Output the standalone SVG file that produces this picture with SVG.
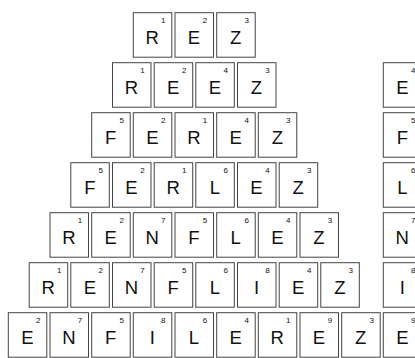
<svg xmlns="http://www.w3.org/2000/svg" width="415" height="358" viewBox="0 0 415 358">
<style>
.t rect{fill:#fff;stroke:#444;stroke-width:1}
.l{font-family:"Liberation Sans",Arial,sans-serif;font-size:18.5px;text-anchor:middle;fill:#111}
.n{font-family:"Liberation Sans",Arial,sans-serif;font-size:8px;text-anchor:middle;fill:#111}
</style>
<rect width="415" height="358" fill="#fff"/>
<g id="row0">
<g id="t0-0" class="t" transform="translate(133.3,12.7)"><rect width="38.5" height="44.5"/><text class="l" x="19" y="31">R</text><text class="n" x="30" y="10.5">1</text></g>
<g id="t0-1" class="t" transform="translate(175,12.7)"><rect width="38.5" height="44.5"/><text class="l" x="19" y="31">E</text><text class="n" x="30" y="10.5">2</text></g>
<g id="t0-2" class="t" transform="translate(216.7,12.7)"><rect width="38.5" height="44.5"/><text class="l" x="19" y="31">Z</text><text class="n" x="30" y="10.5">3</text></g>
</g>
<g id="row1">
<g id="t1-0" class="t" transform="translate(112.5,62.7)"><rect width="38.5" height="44.5"/><text class="l" x="19" y="31">R</text><text class="n" x="30" y="10.5">1</text></g>
<g id="t1-1" class="t" transform="translate(154.2,62.7)"><rect width="38.5" height="44.5"/><text class="l" x="19" y="31">E</text><text class="n" x="30" y="10.5">2</text></g>
<g id="t1-2" class="t" transform="translate(195.8,62.7)"><rect width="38.5" height="44.5"/><text class="l" x="19" y="31">E</text><text class="n" x="30" y="10.5">4</text></g>
<g id="t1-3" class="t" transform="translate(237.5,62.7)"><rect width="38.5" height="44.5"/><text class="l" x="19" y="31">Z</text><text class="n" x="30" y="10.5">3</text></g>
</g>
<g id="row2">
<g id="t2-0" class="t" transform="translate(91.7,112.7)"><rect width="38.5" height="44.5"/><text class="l" x="19" y="31">F</text><text class="n" x="30" y="10.5">5</text></g>
<g id="t2-1" class="t" transform="translate(133.3,112.7)"><rect width="38.5" height="44.5"/><text class="l" x="19" y="31">E</text><text class="n" x="30" y="10.5">2</text></g>
<g id="t2-2" class="t" transform="translate(175,112.7)"><rect width="38.5" height="44.5"/><text class="l" x="19" y="31">R</text><text class="n" x="30" y="10.5">1</text></g>
<g id="t2-3" class="t" transform="translate(216.7,112.7)"><rect width="38.5" height="44.5"/><text class="l" x="19" y="31">E</text><text class="n" x="30" y="10.5">4</text></g>
<g id="t2-4" class="t" transform="translate(258.3,112.7)"><rect width="38.5" height="44.5"/><text class="l" x="19" y="31">Z</text><text class="n" x="30" y="10.5">3</text></g>
</g>
<g id="row3">
<g id="t3-0" class="t" transform="translate(70.8,162.7)"><rect width="38.5" height="44.5"/><text class="l" x="19" y="31">F</text><text class="n" x="30" y="10.5">5</text></g>
<g id="t3-1" class="t" transform="translate(112.5,162.7)"><rect width="38.5" height="44.5"/><text class="l" x="19" y="31">E</text><text class="n" x="30" y="10.5">2</text></g>
<g id="t3-2" class="t" transform="translate(154.2,162.7)"><rect width="38.5" height="44.5"/><text class="l" x="19" y="31">R</text><text class="n" x="30" y="10.5">1</text></g>
<g id="t3-3" class="t" transform="translate(195.8,162.7)"><rect width="38.5" height="44.5"/><text class="l" x="19" y="31">L</text><text class="n" x="30" y="10.5">6</text></g>
<g id="t3-4" class="t" transform="translate(237.5,162.7)"><rect width="38.5" height="44.5"/><text class="l" x="19" y="31">E</text><text class="n" x="30" y="10.5">4</text></g>
<g id="t3-5" class="t" transform="translate(279.2,162.7)"><rect width="38.5" height="44.5"/><text class="l" x="19" y="31">Z</text><text class="n" x="30" y="10.5">3</text></g>
</g>
<g id="row4">
<g id="t4-0" class="t" transform="translate(50,212.7)"><rect width="38.5" height="44.5"/><text class="l" x="19" y="31">R</text><text class="n" x="30" y="10.5">1</text></g>
<g id="t4-1" class="t" transform="translate(91.7,212.7)"><rect width="38.5" height="44.5"/><text class="l" x="19" y="31">E</text><text class="n" x="30" y="10.5">2</text></g>
<g id="t4-2" class="t" transform="translate(133.3,212.7)"><rect width="38.5" height="44.5"/><text class="l" x="19" y="31">N</text><text class="n" x="30" y="10.5">7</text></g>
<g id="t4-3" class="t" transform="translate(175,212.7)"><rect width="38.5" height="44.5"/><text class="l" x="19" y="31">F</text><text class="n" x="30" y="10.5">5</text></g>
<g id="t4-4" class="t" transform="translate(216.7,212.7)"><rect width="38.5" height="44.5"/><text class="l" x="19" y="31">L</text><text class="n" x="30" y="10.5">6</text></g>
<g id="t4-5" class="t" transform="translate(258.3,212.7)"><rect width="38.5" height="44.5"/><text class="l" x="19" y="31">E</text><text class="n" x="30" y="10.5">4</text></g>
<g id="t4-6" class="t" transform="translate(300,212.7)"><rect width="38.5" height="44.5"/><text class="l" x="19" y="31">Z</text><text class="n" x="30" y="10.5">3</text></g>
</g>
<g id="row5">
<g id="t5-0" class="t" transform="translate(29.2,262.7)"><rect width="38.5" height="44.5"/><text class="l" x="19" y="31">R</text><text class="n" x="30" y="10.5">1</text></g>
<g id="t5-1" class="t" transform="translate(70.8,262.7)"><rect width="38.5" height="44.5"/><text class="l" x="19" y="31">E</text><text class="n" x="30" y="10.5">2</text></g>
<g id="t5-2" class="t" transform="translate(112.5,262.7)"><rect width="38.5" height="44.5"/><text class="l" x="19" y="31">N</text><text class="n" x="30" y="10.5">7</text></g>
<g id="t5-3" class="t" transform="translate(154.2,262.7)"><rect width="38.5" height="44.5"/><text class="l" x="19" y="31">F</text><text class="n" x="30" y="10.5">5</text></g>
<g id="t5-4" class="t" transform="translate(195.8,262.7)"><rect width="38.5" height="44.5"/><text class="l" x="19" y="31">L</text><text class="n" x="30" y="10.5">6</text></g>
<g id="t5-5" class="t" transform="translate(237.5,262.7)"><rect width="38.5" height="44.5"/><text class="l" x="19" y="31">I</text><text class="n" x="30" y="10.5">8</text></g>
<g id="t5-6" class="t" transform="translate(279.2,262.7)"><rect width="38.5" height="44.5"/><text class="l" x="19" y="31">E</text><text class="n" x="30" y="10.5">4</text></g>
<g id="t5-7" class="t" transform="translate(320.8,262.7)"><rect width="38.5" height="44.5"/><text class="l" x="19" y="31">Z</text><text class="n" x="30" y="10.5">3</text></g>
</g>
<g id="row6">
<g id="t6-0" class="t" transform="translate(8.3,312.7)"><rect width="38.5" height="44.5"/><text class="l" x="19" y="31">E</text><text class="n" x="30" y="10.5">2</text></g>
<g id="t6-1" class="t" transform="translate(50,312.7)"><rect width="38.5" height="44.5"/><text class="l" x="19" y="31">N</text><text class="n" x="30" y="10.5">7</text></g>
<g id="t6-2" class="t" transform="translate(91.7,312.7)"><rect width="38.5" height="44.5"/><text class="l" x="19" y="31">F</text><text class="n" x="30" y="10.5">5</text></g>
<g id="t6-3" class="t" transform="translate(133.3,312.7)"><rect width="38.5" height="44.5"/><text class="l" x="19" y="31">I</text><text class="n" x="30" y="10.5">8</text></g>
<g id="t6-4" class="t" transform="translate(175,312.7)"><rect width="38.5" height="44.5"/><text class="l" x="19" y="31">L</text><text class="n" x="30" y="10.5">6</text></g>
<g id="t6-5" class="t" transform="translate(216.7,312.7)"><rect width="38.5" height="44.5"/><text class="l" x="19" y="31">E</text><text class="n" x="30" y="10.5">4</text></g>
<g id="t6-6" class="t" transform="translate(258.3,312.7)"><rect width="38.5" height="44.5"/><text class="l" x="19" y="31">R</text><text class="n" x="30" y="10.5">1</text></g>
<g id="t6-7" class="t" transform="translate(300,312.7)"><rect width="38.5" height="44.5"/><text class="l" x="19" y="31">E</text><text class="n" x="30" y="10.5">9</text></g>
<g id="t6-8" class="t" transform="translate(341.7,312.7)"><rect width="38.5" height="44.5"/><text class="l" x="19" y="31">Z</text><text class="n" x="30" y="10.5">3</text></g>
</g>
<g id="column">
<g id="c1" class="t" transform="translate(383.3,62.7)"><rect width="38.5" height="44.5"/><text class="l" x="19" y="31">E</text><text class="n" x="30" y="10.5">4</text></g>
<g id="c2" class="t" transform="translate(383.3,112.7)"><rect width="38.5" height="44.5"/><text class="l" x="19" y="31">F</text><text class="n" x="30" y="10.5">5</text></g>
<g id="c3" class="t" transform="translate(383.3,162.7)"><rect width="38.5" height="44.5"/><text class="l" x="19" y="31">L</text><text class="n" x="30" y="10.5">6</text></g>
<g id="c4" class="t" transform="translate(383.3,212.7)"><rect width="38.5" height="44.5"/><text class="l" x="19" y="31">N</text><text class="n" x="30" y="10.5">7</text></g>
<g id="c5" class="t" transform="translate(383.3,262.7)"><rect width="38.5" height="44.5"/><text class="l" x="19" y="31">I</text><text class="n" x="30" y="10.5">8</text></g>
<g id="c6" class="t" transform="translate(383.3,312.7)"><rect width="38.5" height="44.5"/><text class="l" x="19" y="31">E</text><text class="n" x="30" y="10.5">9</text></g>
</g>
</svg>
